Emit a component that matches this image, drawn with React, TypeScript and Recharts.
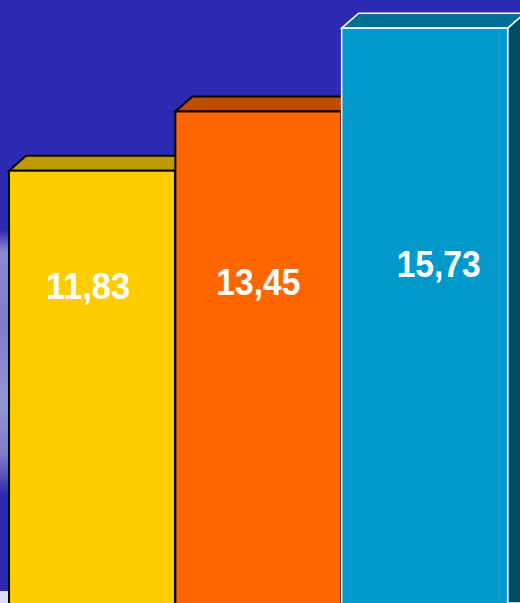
import { BarChart, Bar, XAxis, YAxis, Cell, LabelList } from 'recharts';

const categories = ['A', 'B', 'C'];
const values = [11.83, 13.45, 15.73];

const data = categories.map((name, i) => ({ name, value: values[i] }));

// colours: front, top, side, outline
const fronts = ['#FFCC00', '#FF6600', '#0099CC'];
const tops = ['#BF9900', '#BF4D00', '#006F94'];
const sides = ['#9F8000', '#A04000', '#004C66'];
const outlines = ['#000000', '#000000', '#FFFFFF'];

// label placement relative to the bar (centre x offset, baseline below bar top)
const labelDx = [-4, 0, 14];
const labelDy = [128, 184, 249];

const DX = 17;
const DY = 15;

const Bar3D = (props: any) => {
  const { x, y, width, height, index } = props;
  const sw = index === 2 ? 1.5 : 2;
  return (
    <g>
      <polygon
        points={`${x + width},${y} ${x + width + DX},${y - DY} ${x + width + DX},${y + height} ${x + width},${y + height}`}
        fill={sides[index]}
        stroke={outlines[index]}
        strokeWidth={sw}
      />
      <polygon
        points={`${x},${y} ${x + DX},${y - DY} ${x + width + DX},${y - DY} ${x + width},${y}`}
        fill={tops[index]}
        stroke={outlines[index]}
        strokeWidth={sw}
      />
      <rect x={x} y={y} width={width} height={height + 4} fill={fronts[index]} stroke={outlines[index]} strokeWidth={sw} />
    </g>
  );
};

const renderLabel = (props: any) => {
  const { x, y, width, value, index } = props;
  return (
    <text
      x={x + width / 2 + labelDx[index]}
      y={y + labelDy[index]}
      textAnchor="middle"
      fill="#FFFFFF"
      fontFamily="'Liberation Sans', Arial, sans-serif"
      fontWeight="bold"
      fontSize={37}
      textLength={84}
      lengthAdjust="spacingAndGlyphs"
    >
      {Number(value).toFixed(2).replace('.', ',')}
    </text>
  );
};

export default function App() {
  return (
    <div
      style={{
        position: 'absolute',
        left: 0,
        top: 0,
        width: 520,
        height: 603,
        overflow: 'hidden',
        background: '#2C2AB2',
      }}
    >
      <div
        style={{
          position: 'absolute',
          left: 0,
          top: 230,
          width: 10,
          height: 265,
          background:
            'linear-gradient(to bottom, #2C2AB2 0%, #8A8AD2 8%, #7C7CCB 35%, #9494D6 65%, #7C7CC8 85%, #2C2AB2 100%)',
        }}
      />
      <div
        style={{
          position: 'absolute',
          left: 0,
          top: 591,
          width: 520,
          height: 12,
          background: '#DCDCF4',
        }}
      />
      <div style={{ position: 'absolute', left: 0, top: 0 }}>
        <BarChart
          width={535}
          height={603}
          data={data}
          margin={{ top: 0, right: 27, bottom: 0, left: 9 }}
          barCategoryGap={0}
          barGap={0}
        >
          <XAxis dataKey="name" hide />
          <YAxis hide domain={[0, 16.5]} />
          <Bar dataKey="value" isAnimationActive={false} shape={<Bar3D />}>
            {data.map((d, i) => (
              <Cell key={d.name} fill={fronts[i]} />
            ))}
            <LabelList dataKey="value" content={renderLabel} />
          </Bar>
        </BarChart>
      </div>
    </div>
  );
}
